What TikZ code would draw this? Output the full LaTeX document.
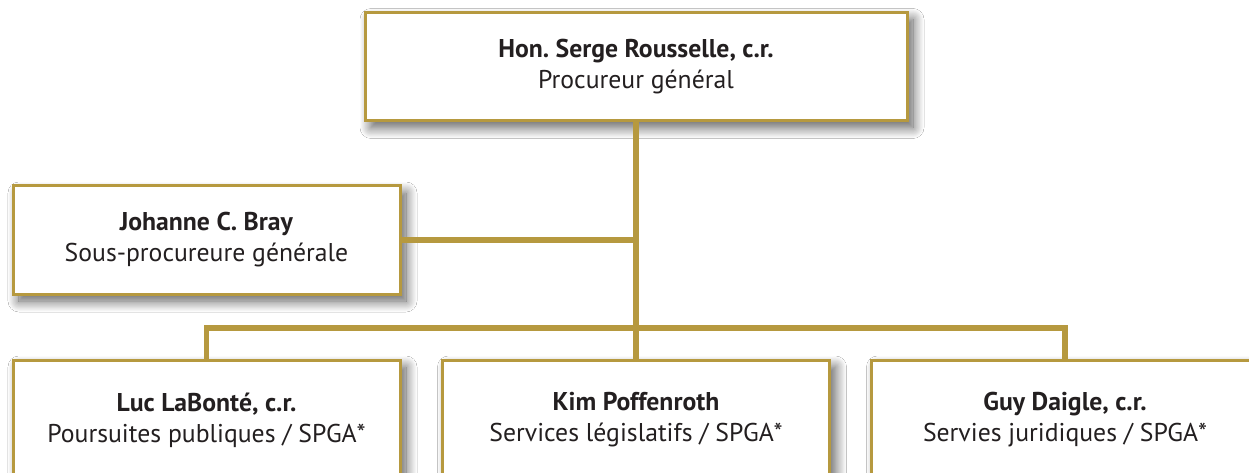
\documentclass[tikz,border=0pt]{standalone}
\usepackage{fontspec}
\setmainfont{PT Sans}
\usepackage{tikz}
\usetikzlibrary{positioning,shadows.blur}

\definecolor{gold}{HTML}{B6993F}
\definecolor{ink}{HTML}{231F20}

\tikzset{
  office/.style={draw=gold, line width=3pt, fill=white, rectangle,
    minimum width=387pt, minimum height=108pt, align=center, text=ink,
    font=\fontsize{25.7}{31}\selectfont,
    blur shadow={shadow xshift=6pt, shadow yshift=-7pt, shadow blur radius=11pt,
      shadow blur steps=16, shadow opacity=65}},
  link/.style={draw=gold, line width=5.5pt}
}

\begin{document}
\begin{tikzpicture}[x=1pt,y=-1pt,node distance=2cm,on grid]
  \useasboundingbox (0,0) rectangle (1249,473);
  \clip (0,0) rectangle (1249,473);
  \fill[white] (0,0) rectangle (1249,473);

  \coordinate (bus) at (636,328);

  \node[office, minimum width=542pt] (ag) at (636,66.5)
     {\textbf{Hon.\ Serge Rousselle, c.r.}\\Procureur général};
  \node[office] (jb) [below left=173.5pt and 429.5pt of ag]
     {\textbf{Johanne C. Bray}\\Sous-procureure générale};
  \node[office, minimum height=120pt] (kim) [below=353.5pt of ag]
     {\textbf{Kim Poffenroth}\\Services législatifs / SPGA*};
  \node[office, minimum height=120pt] (luc) [left=429.5pt of kim]
     {\textbf{Luc LaBonté, c.r.}\\Poursuites publiques / SPGA*};
  \node[office, minimum height=120pt] (guy) [right=429pt of kim]
     {\textbf{Guy Daigle, c.r.}\\Servies juridiques / SPGA*};

  % liens
  \draw[link] (ag) -- (kim);
  \draw[link] (jb) -- (jb -| ag);
  \draw[link] (luc) |- (bus) -| (guy);
\end{tikzpicture}
\end{document}
